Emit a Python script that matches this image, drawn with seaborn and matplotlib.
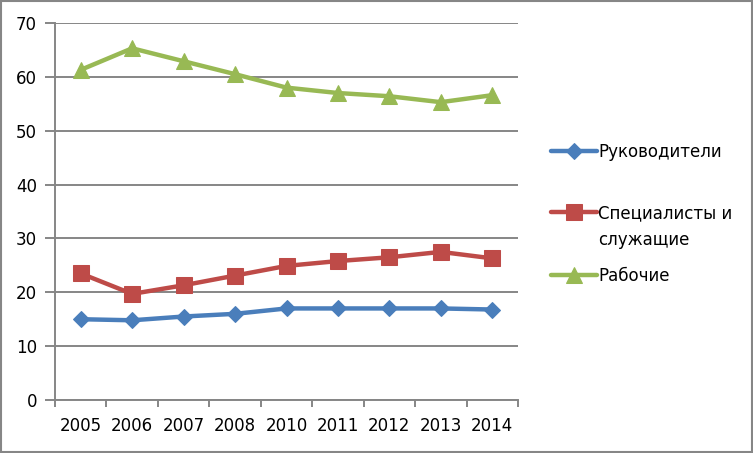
import matplotlib
matplotlib.use("Agg")
import matplotlib.pyplot as plt
import matplotlib.patches as mpatches
import numpy as np
import pandas as pd
import seaborn as sb

sb.set_theme(style="white")
plt.rcParams['font.family'] = ['DejaVu Sans']
plt.rcParams['text.color'] = 'black'
plt.rcParams['xtick.labelcolor'] = 'black'
plt.rcParams['ytick.labelcolor'] = 'black'

years = ["2005", "2006", "2007", "2008", "2010", "2011", "2012", "2013", "2014"]
managers = [15.0, 14.8, 15.5, 16.0, 17.0, 17.0, 17.0, 17.0, 16.8]
specialists = [23.5, 19.7, 21.3, 23.1, 24.9, 25.8, 26.5, 27.5, 26.3]
workers = [61.3, 65.3, 62.9, 60.5, 58.0, 57.0, 56.4, 55.3, 56.6]

labels = ["Руководители", "Специалисты и", "Рабочие"]
label_extra = "служащие"   # second line of the middle legend entry
colors = ["#4A7EBB", "#BE4B48", "#98B954"]
markers = ["D", "s", "^"]
msizes = [8, 11, 11]

grid_col = "#868686"
fs = 12

fig = plt.figure(figsize=(7.53, 4.53), dpi=100)
ax = fig.add_axes([55 / 753, 53 / 453, 463 / 753, 377 / 453])

pos = np.arange(len(years))
for vals, lab, col, mk, ms in zip([managers, specialists, workers], labels, colors, markers, msizes):
    sb.lineplot(x=pos, y=vals, ax=ax, color=col, linewidth=3.2, marker=mk,
                markersize=ms, markeredgecolor=col, label=lab)

ax.set_xlim(-0.5, len(years) - 0.5)
ax.set_ylim(0, 70)
ax.set_yticks(np.arange(0, 71, 10))
ax.yaxis.grid(True, color=grid_col, linewidth=1.4)
ax.set_axisbelow(True)

# category labels at centres, tick marks between categories
ax.set_xticks(pos)
ax.set_xticklabels(years)
ax.set_xticks(np.arange(-0.5, len(years), 1), minor=True)
ax.tick_params(axis="x", which="major", length=0, pad=12, labelsize=fs, labelcolor="black")
ax.tick_params(axis="x", which="minor", length=5, width=1.4, color=grid_col, direction="out", bottom=True)
ax.tick_params(axis="y", length=7, width=1.4, color=grid_col, direction="out", left=True, pad=6,
               labelsize=fs, labelcolor="black")

for side in ["top", "right"]:
    ax.spines[side].set_visible(False)
for side in ["left", "bottom"]:
    ax.spines[side].set_color(grid_col)
    ax.spines[side].set_linewidth(1.4)

ax.get_legend().remove()
handles, labs = ax.get_legend_handles_labels()

# one legend per entry so the uneven spacing of the original can be kept
hl, htp = 2.75, 0.1
leg_x = 551
leg_y = [152, 213, 276]
for h, lab, y in zip(handles, labs, leg_y):
    leg = fig.legend([h], [lab], loc="center left", bbox_to_anchor=(leg_x / 753, 1 - y / 453),
                     frameon=False, fontsize=fs, handlelength=hl, handletextpad=htp,
                     borderpad=0, borderaxespad=0)
    for t in leg.get_texts():
        t.set_color("black")
fs_px = fs * 100 / 72
fig.text((leg_x + (hl + htp) * fs_px) / 753, 1 - 240 / 453, label_extra,
         fontsize=fs, ha="left", va="center", color="black")

fig.patches.append(mpatches.Rectangle((0.0015, 0.002), 0.997, 0.995, transform=fig.transFigure,
                                      fill=False, edgecolor=grid_col, linewidth=1.5))

fig.savefig("out.png", dpi=100)
